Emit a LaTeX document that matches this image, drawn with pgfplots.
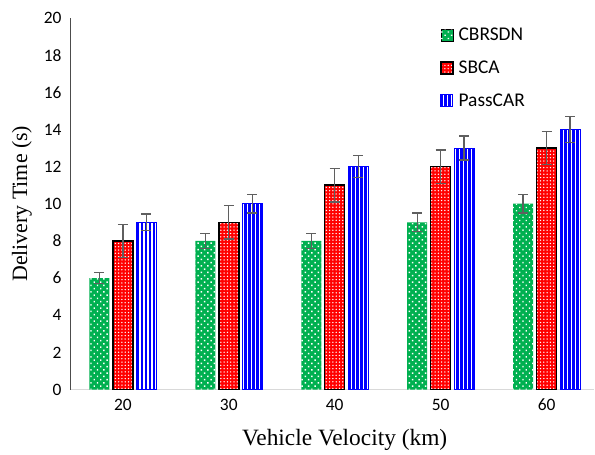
\documentclass[border=0pt]{standalone}
\usepackage{pgfplots}
\pgfplotsset{compat=1.18}
\usetikzlibrary{patterns.meta}
\usepackage{fontspec}
\setmainfont{Liberation Serif}
\newfontfamily\calfont{Carlito}

\definecolor{cgreen}{HTML}{00B050}
\definecolor{cred}{HTML}{FF0000}
\definecolor{cblue}{HTML}{0000FF}
\definecolor{errgray}{HTML}{5F5F5F}
\definecolor{axgray}{HTML}{D9D9D9}

\begin{document}
\begin{tikzpicture}
\begin{axis}[
  name=ax,
  scale only axis,
  width=525bp, height=372bp,
  ybar=3.5bp, bar width=20bp,
  xmin=-0.5, xmax=4.45,
  ymin=0, ymax=20,
  ytick={0,2,...,20},
  xtick={0,1,2,3,4},
  xticklabels={20,30,40,50,60},
  /pgf/number format/assume math mode=true,
  tick label style={font=\calfont\fontsize{17.5}{19}\selectfont, black},
  yticklabel style={xshift=-5bp},
  xticklabel style={yshift=-6bp},
  major tick length=0pt,
  axis x line*=bottom, axis y line*=left,
  x axis line style={axgray, line width=1.5bp, -},
  y axis line style={black!70, line width=0.8bp, -},
  xlabel={Vehicle Velocity (km)},
  ylabel={Delivery Time (s)},
  xlabel style={font=\fontsize{23.5}{25}\selectfont, at={(axis description cs:0.524,-0.137)}, anchor=center},
  ylabel style={font=\fontsize{22}{24}\selectfont, at={(axis description cs:-0.0914,0.5)}, anchor=center},
  legend style={draw=none, fill=none, at={(0.70,0.985)}, anchor=north west,
    font=\calfont\fontsize{19.5}{21}\selectfont, row sep=15bp,
    legend cell align=left},
  legend image code/.code={\draw[#1] (0bp,-6bp) rectangle (12bp,6bp); \path (15bp,0bp);},
  error bars/y dir=both, error bars/y explicit,
  error bars/error bar style={errgray, line width=1.3bp},
  error bars/error mark options={errgray, line width=1.3bp, mark size=5bp, rotate=90},
]
\addplot[draw=none, fill=cgreen,
  postaction={pattern={Dots[distance=4.6bp, radius=1bp, angle=45]}, pattern color=white}]
  coordinates {(0,6) +- (0,0.3) (1,8) +- (0,0.4) (2,8) +- (0,0.4) (3,9) +- (0,0.5) (4,10) +- (0,0.5)};
\addplot[draw=black, line width=1.5bp, fill=cred,
  postaction={pattern={Dots[distance=3.3bp, radius=0.75bp]}, pattern color=white}]
  coordinates {(0,8) +- (0,0.9) (1,9) +- (0,0.9) (2,11) +- (0,0.9) (3,12) +- (0,0.9) (4,13) +- (0,0.9)};
\addplot[draw=cblue, line width=0.8bp, fill=cblue,
  postaction={pattern={Lines[angle=90, distance=4bp, line width=1.4bp]}, pattern color=white}]
  coordinates {(0,9) +- (0,0.45) (1,10) +- (0,0.5) (2,12) +- (0,0.6) (3,13) +- (0,0.65) (4,14) +- (0,0.7)};
\legend{CBRSDN, SBCA, PassCAR}
\end{axis}
% page margins around the plot area
\path ([shift={(-70bp,-62bp)}]ax.south west) rectangle ([shift={(0bp,18bp)}]ax.north east);
\end{tikzpicture}
\end{document}
